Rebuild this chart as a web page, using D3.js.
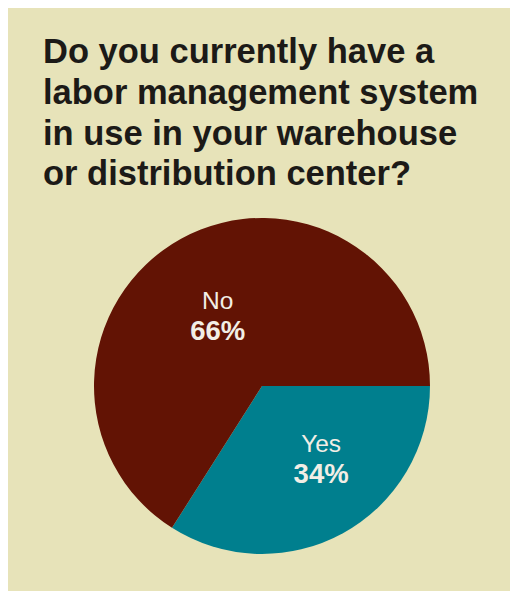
<!DOCTYPE html>
<html>
<head>
<meta charset="utf-8">
<script src="https://cdn.jsdelivr.net/npm/d3@7"></script>
<style>
  html, body { margin: 0; padding: 0; background: #ffffff; }
  svg { display: block; }
</style>
</head>
<body>
<svg id="chart" width="510" height="591"></svg>
<script>
// chart data
const titleLines = ["Do you currently have a", "labor management system", "in use in your warehouse", "or distribution center?"];
const categories = ["Yes", "No"];
const values = [34, 66];
const colors = ["#007f8e", "#621304"];

const W = 510, H = 591;
const font = "Liberation Sans, Arial, Helvetica, sans-serif";
const svg = d3.select("#chart");

// panel background
svg.append("rect")
    .attr("x", 8).attr("y", 8)
    .attr("width", W - 8).attr("height", H - 8)
    .attr("fill", "#e7e3b9");

// title
const title = svg.append("text")
    .attr("x", 43).attr("y", 63)
    .attr("font-family", font)
    .attr("font-weight", "bold")
    .attr("font-size", 34.5)
    .attr("fill", "#1c1a17");
title.selectAll("tspan")
    .data(titleLines)
    .join("tspan")
    .attr("x", 43)
    .attr("dy", (d, i) => i === 0 ? 0 : 40.8)
    .text(d => d);

// pie, Yes starts at 3 o'clock and runs clockwise
const cx = 262, cy = 386, radius = 168;
const g = svg.append("g").attr("transform", `translate(${cx},${cy})`);

const pie = d3.pie()
    .sort(null)
    .startAngle(Math.PI / 2)
    .endAngle(Math.PI / 2 + 2 * Math.PI)
    .value(d => d.value);

const data = categories.map((c, i) => ({ label: c, value: values[i], color: colors[i] }));
const arcs = pie(data);

const arc = d3.arc().innerRadius(0).outerRadius(radius);

g.selectAll("path.slice")
    .data(arcs)
    .join("path")
    .attr("class", "slice")
    .attr("d", arc)
    .attr("fill", d => d.data.color);

// labels sit a bit counter-clockwise of the mid angle; smaller slices push labels outward
function labelPos(d) {
    const span = d.endAngle - d.startAngle;
    const r = 128 - 12.6 * span;
    const a = (d.startAngle + d.endAngle) / 2 - 7 * Math.PI / 180;
    return [r * Math.sin(a), -r * Math.cos(a)];
}

const labels = g.selectAll("g.label")
    .data(arcs)
    .join("g")
    .attr("class", "label")
    .attr("transform", d => `translate(${labelPos(d)})`);

labels.append("text")
    .attr("text-anchor", "middle")
    .attr("y", -15.5)
    .attr("font-family", font)
    .attr("font-size", 24.5)
    .attr("fill", "#f2eee6")
    .text(d => d.data.label);

labels.append("text")
    .attr("text-anchor", "middle")
    .attr("y", 15)
    .attr("font-family", font)
    .attr("font-weight", "bold")
    .attr("font-size", 27.5)
    .attr("fill", "#f2eee6")
    .text(d => d.data.value + "%");
</script>
</body>
</html>
